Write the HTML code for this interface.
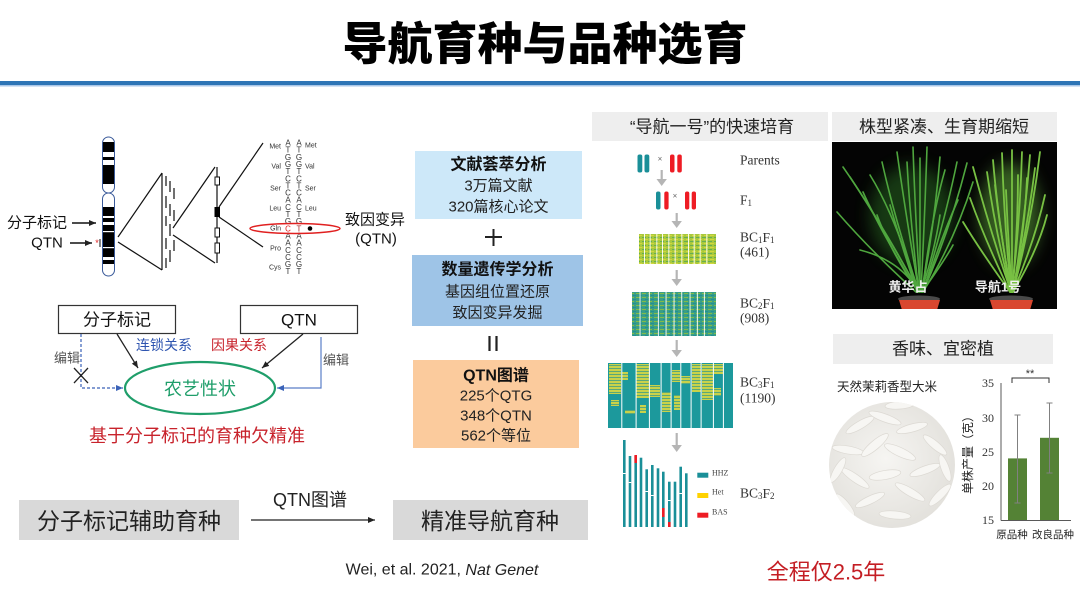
<!DOCTYPE html>
<html><head><meta charset="utf-8">
<style>
html,body{margin:0;padding:0;background:#fff;}
svg{display:block;}
text{font-family:"Liberation Sans","Noto Sans CJK SC",sans-serif;}
.s{font-family:"Liberation Serif","Noto Serif CJK SC",serif;}
</style></head><body>
<svg width="1080" height="609" viewBox="0 0 1080 609" xmlns="http://www.w3.org/2000/svg">
<defs>
  <marker id="ab" markerWidth="8" markerHeight="8" refX="7" refY="4" orient="auto" markerUnits="userSpaceOnUse"><path d="M0,1 L7,4 L0,7 z" fill="#222"/></marker>
  <marker id="abl" markerWidth="8" markerHeight="8" refX="7" refY="4" orient="auto" markerUnits="userSpaceOnUse"><path d="M0,1 L7,4 L0,7 z" fill="#3a62b8"/></marker>
  <pattern id="p1" width="6" height="4" patternUnits="userSpaceOnUse"><rect width="6" height="4" fill="#a9c93d"/><rect y="1" width="4" height="1" fill="#66ad52"/><rect x="2" y="3" width="4" height="1" fill="#d2d83e"/></pattern>
  <pattern id="p2" width="6" height="4" patternUnits="userSpaceOnUse"><rect width="6" height="4" fill="#3a9e86"/><rect y="1" width="4" height="1" fill="#84bc48"/><rect x="3" y="3" width="3" height="1" fill="#1f8f96"/></pattern>
  <pattern id="py" width="5" height="3" patternUnits="userSpaceOnUse"><rect width="5" height="3" fill="#c8d24a"/><rect y="2" width="5" height="1" fill="#5aa878"/></pattern>
  <radialGradient id="rg" cx="0.45" cy="0.45" r="0.6"><stop offset="0" stop-color="#f6f5f2"/><stop offset="1" stop-color="#e2e0db"/></radialGradient>
  <clipPath id="rc"><circle cx="892" cy="465" r="63"/></clipPath>
  <clipPath id="pc"><rect x="832" y="142" width="225" height="167"/></clipPath>
  <filter id="bl" x="-0.5" y="-0.5" width="2" height="2"><feGaussianBlur stdDeviation="8"/></filter>
</defs>

<!-- Title -->
<text x="545" y="44" font-size="45" font-weight="900" text-anchor="middle" dominant-baseline="central" fill="#000">导航育种与品种选育</text>
<rect x="0" y="81" width="1080" height="4" fill="#2e75b6"/>
<rect x="0" y="85" width="1080" height="1.5" fill="#aac7e8"/>

<!-- Chromosome -->
<g>
  <rect x="102.5" y="137" width="12" height="56" rx="6" fill="#fff" stroke="#3a5a9a" stroke-width="1"/>
  <rect x="102.5" y="193" width="12" height="83" rx="6" fill="#fff" stroke="#3a5a9a" stroke-width="1"/>
  <g fill="#000">
    <rect x="103" y="142" width="11" height="10"/>
    <rect x="103" y="157" width="11" height="3"/>
    <rect x="103" y="165" width="11" height="19"/>
    <rect x="103" y="207" width="11" height="9"/>
    <rect x="103" y="218" width="11" height="4"/>
    <rect x="103" y="225" width="11" height="32"/>
    <rect x="103" y="260" width="11" height="4"/>
  </g>
  <rect x="103" y="231" width="11" height="1.2" fill="#fff"/>
  <rect x="103" y="247" width="11" height="1.2" fill="#fff"/>
</g>
<text x="37" y="223" font-size="15" text-anchor="middle" dominant-baseline="central" fill="#111">分子标记</text>
<line x1="72" y1="223" x2="96" y2="223" stroke="#111" stroke-width="1.5" marker-end="url(#ab)"/>
<text x="47" y="243" font-size="15" text-anchor="middle" dominant-baseline="central" fill="#111">QTN</text>
<line x1="70" y1="243" x2="92" y2="243" stroke="#111" stroke-width="1.5" marker-end="url(#ab)"/>
<text x="97" y="246" font-size="9" text-anchor="middle" fill="#e02020">*</text>
<line x1="100" y1="239" x2="100" y2="247" stroke="#111" stroke-width="1"/>

<!-- zoom lines -->
<g stroke="#111" stroke-width="1.2" fill="none">
  <line x1="118" y1="237" x2="162" y2="173"/>
  <line x1="118" y1="242" x2="162" y2="270"/>
  <line x1="162" y1="173" x2="162" y2="270"/>
  <line x1="166" y1="176" x2="166" y2="186"/>
  <line x1="170" y1="181" x2="170" y2="192"/>
  <line x1="174" y1="188" x2="174" y2="199"/>
  <line x1="166" y1="196" x2="166" y2="208"/>
  <line x1="170" y1="204" x2="170" y2="216"/>
  <line x1="174" y1="210" x2="174" y2="221"/>
  <line x1="166" y1="216" x2="166" y2="226"/>
  <line x1="170" y1="224" x2="170" y2="236"/>
  <line x1="166" y1="238" x2="166" y2="249"/>
  <line x1="174" y1="240" x2="174" y2="251"/>
  <line x1="170" y1="250" x2="170" y2="262"/>
  <line x1="166" y1="258" x2="166" y2="268"/>
  <line x1="173" y1="228" x2="215" y2="167"/>
  <line x1="173" y1="235" x2="215" y2="263"/>
  <line x1="217" y1="167" x2="217" y2="263"/>
  <line x1="219" y1="207" x2="263" y2="143"/>
  <line x1="219" y1="217" x2="263" y2="247"/>
</g>
<g stroke="#111" stroke-width="1" fill="#fff">
  <rect x="215" y="177" width="4.5" height="8"/>
  <rect x="215" y="228" width="4.5" height="9"/>
  <rect x="215" y="243" width="4.5" height="10"/>
</g>
<rect x="214.5" y="207" width="5.5" height="10" fill="#000"/>

<!-- Sequence -->
<g font-size="7" fill="#333" dominant-baseline="central">
  <text x="281" y="147" text-anchor="end">Met</text>
  <text x="281" y="167" text-anchor="end">Val</text>
  <text x="281" y="189" text-anchor="end">Ser</text>
  <text x="281" y="209" text-anchor="end">Leu</text>
  <text x="281" y="228.8" text-anchor="end">Gln</text>
  <text x="281" y="249" text-anchor="end">Pro</text>
  <text x="281" y="268" text-anchor="end">Cys</text>
  <text x="305" y="146">Met</text>
  <text x="305" y="167">Val</text>
  <text x="305" y="189">Ser</text>
  <text x="305" y="209">Leu</text>
</g>
<g font-size="8" fill="#333" text-anchor="middle" dominant-baseline="central">
  <text x="288" y="143">A</text><text x="288" y="150.2">T</text><text x="288" y="157.3">G</text><text x="288" y="164.5">G</text><text x="288" y="171.6">T</text><text x="288" y="178.8">C</text><text x="288" y="185.9">T</text><text x="288" y="193.1">C</text><text x="288" y="200.2">A</text><text x="288" y="207.4">C</text><text x="288" y="214.5">T</text><text x="288" y="221.7">G</text><text x="288" y="228.8" fill="#e02020">C</text><text x="288" y="236">A</text><text x="288" y="243.1">A</text><text x="288" y="250.3">C</text><text x="288" y="257.4">C</text><text x="288" y="264.6">G</text><text x="288" y="271.7">T</text>
  <text x="299" y="143">A</text><text x="299" y="150.2">T</text><text x="299" y="157.3">G</text><text x="299" y="164.5">G</text><text x="299" y="171.6">T</text><text x="299" y="178.8">C</text><text x="299" y="185.9">T</text><text x="299" y="193.1">C</text><text x="299" y="200.2">A</text><text x="299" y="207.4">C</text><text x="299" y="214.5">T</text><text x="299" y="221.7">G</text><text x="299" y="228.8" fill="#a02828">T</text><text x="299" y="236">A</text><text x="299" y="243.1">A</text><text x="299" y="250.3">C</text><text x="299" y="257.4">C</text><text x="299" y="264.6">G</text><text x="299" y="271.7">T</text>
</g>
<ellipse cx="295" cy="228.5" rx="45" ry="5" fill="none" stroke="#e02020" stroke-width="1.5"/>
<circle cx="310" cy="228.5" r="2.3" fill="#000"/>
<text x="375" y="220" font-size="15" text-anchor="middle" dominant-baseline="central" fill="#111">致因变异</text>
<text x="376" y="239" font-size="15" text-anchor="middle" dominant-baseline="central" fill="#111">(QTN)</text>

<!-- Relation diagram -->
<rect x="58.5" y="305.5" width="117" height="28" fill="#fff" stroke="#333" stroke-width="1.2"/>
<text x="117" y="320" font-size="17" text-anchor="middle" dominant-baseline="central" fill="#111">分子标记</text>
<rect x="240.5" y="305.5" width="117" height="28" fill="#fff" stroke="#333" stroke-width="1.2"/>
<text x="299" y="320" font-size="17" text-anchor="middle" dominant-baseline="central" fill="#111">QTN</text>
<text x="164" y="345" font-size="14" text-anchor="middle" dominant-baseline="central" fill="#2f55b0">连锁关系</text>
<text x="239" y="345" font-size="14" text-anchor="middle" dominant-baseline="central" fill="#c8232c">因果关系</text>
<line x1="117" y1="334" x2="138" y2="368" stroke="#222" stroke-width="1.3" marker-end="url(#ab)"/>
<line x1="303" y1="334" x2="262" y2="368" stroke="#222" stroke-width="1.3" marker-end="url(#ab)"/>
<polyline points="81,334 81,388 123,388" fill="none" stroke="#3a62b8" stroke-width="1.2" stroke-dasharray="3,2" marker-end="url(#abl)"/>
<polyline points="321,337 321,388 277,388" fill="none" stroke="#5a7ec8" stroke-width="1.2" marker-end="url(#abl)"/>
<text x="67" y="358" font-size="13" text-anchor="middle" dominant-baseline="central" fill="#555">编辑</text>
<text x="336" y="360" font-size="13" text-anchor="middle" dominant-baseline="central" fill="#555">编辑</text>
<line x1="74" y1="368" x2="88" y2="383" stroke="#222" stroke-width="1.3"/>
<line x1="88" y1="368" x2="74" y2="383" stroke="#222" stroke-width="1.3"/>
<ellipse cx="200" cy="388" rx="75" ry="26" fill="#fff" stroke="#1f9e6a" stroke-width="2.2"/>
<text x="200" y="389" font-size="18" text-anchor="middle" dominant-baseline="central" fill="#1f9e6a">农艺性状</text>
<text x="197" y="436" font-size="18" text-anchor="middle" dominant-baseline="central" fill="#c8232c">基于分子标记的育种欠精准</text>

<!-- Bottom -->
<rect x="19" y="500" width="220" height="40" fill="#d9d9d9"/>
<text x="129" y="521" font-size="23" text-anchor="middle" dominant-baseline="central" fill="#222">分子标记辅助育种</text>
<text x="310" y="500" font-size="18" text-anchor="middle" dominant-baseline="central" fill="#222">QTN图谱</text>
<line x1="251" y1="520" x2="375" y2="520" stroke="#222" stroke-width="1.3" marker-end="url(#ab)"/>
<rect x="393" y="500" width="195" height="40" fill="#d9d9d9"/>
<text x="490" y="521" font-size="23" text-anchor="middle" dominant-baseline="central" fill="#222">精准导航育种</text>
<text x="442" y="570" font-size="16" text-anchor="middle" dominant-baseline="central" fill="#222">Wei, et al. 2021, <tspan font-style="italic">Nat Genet</tspan></text>

<!-- Middle boxes -->
<rect x="415" y="151" width="167" height="68" fill="#cde8f9"/>
<text x="498.5" y="165" font-size="16" font-weight="bold" text-anchor="middle" dominant-baseline="central" fill="#111">文献荟萃分析</text>
<text x="498.5" y="186" font-size="15" text-anchor="middle" dominant-baseline="central" fill="#222">3万篇文献</text>
<text x="498.5" y="207" font-size="15" text-anchor="middle" dominant-baseline="central" fill="#222">320篇核心论文</text>
<line x1="485" y1="237" x2="502" y2="237" stroke="#222" stroke-width="2"/>
<line x1="493.5" y1="229" x2="493.5" y2="246" stroke="#222" stroke-width="2"/>
<rect x="412" y="255" width="171" height="71" fill="#9ec4e7"/>
<text x="497.5" y="270" font-size="16" font-weight="bold" text-anchor="middle" dominant-baseline="central" fill="#111">数量遗传学分析</text>
<text x="497.5" y="292" font-size="15" text-anchor="middle" dominant-baseline="central" fill="#222">基因组位置还原</text>
<text x="497.5" y="313" font-size="15" text-anchor="middle" dominant-baseline="central" fill="#222">致因变异发掘</text>
<line x1="489.5" y1="336" x2="489.5" y2="351" stroke="#222" stroke-width="2.2"/>
<line x1="496.5" y1="336" x2="496.5" y2="351" stroke="#222" stroke-width="2.2"/>
<rect x="413" y="360" width="166" height="88" fill="#fbcb9d"/>
<text x="496" y="376" font-size="16" font-weight="bold" text-anchor="middle" dominant-baseline="central" fill="#111">QTN图谱</text>
<text x="496" y="396" font-size="15" text-anchor="middle" dominant-baseline="central" fill="#222">225个QTG</text>
<text x="496" y="416" font-size="15" text-anchor="middle" dominant-baseline="central" fill="#222">348个QTN</text>
<text x="496" y="436" font-size="15" text-anchor="middle" dominant-baseline="central" fill="#222">562个等位</text>

<!-- Breeding column -->
<rect x="592" y="112" width="236" height="29" fill="#eeeeee"/>
<text x="712" y="127" font-size="17" text-anchor="middle" dominant-baseline="central" fill="#222">“导航一号”的快速培育</text>

<g fill="#1a8f98">
  <rect x="637.5" y="154.5" width="4.8" height="18" rx="2"/>
  <rect x="644.5" y="154.5" width="4.8" height="18" rx="2"/>
  <rect x="656" y="191.5" width="4.5" height="18" rx="2"/>
</g>
<g fill="#ee1c24">
  <rect x="670" y="154.5" width="4.5" height="18" rx="2"/>
  <rect x="677.3" y="154.5" width="4.5" height="18" rx="2"/>
  <rect x="664.3" y="191.5" width="4.3" height="18" rx="2"/>
  <rect x="685" y="191.5" width="4.3" height="18" rx="2"/>
  <rect x="691.7" y="191.5" width="4.3" height="18" rx="2"/>
</g>
<text x="660" y="159" font-size="8" text-anchor="middle" dominant-baseline="central" fill="#666">×</text>
<text x="675" y="196" font-size="8" text-anchor="middle" dominant-baseline="central" fill="#666">×</text>

<g stroke="#b5b5b5" stroke-width="2.2">
  <line x1="661.7" y1="170" x2="661.7" y2="180"/>
  <line x1="676.7" y1="213" x2="676.7" y2="222"/>
  <line x1="676.7" y1="270" x2="676.7" y2="280"/>
  <line x1="676.7" y1="340" x2="676.7" y2="351"/>
  <line x1="676.7" y1="433" x2="676.7" y2="446"/>
</g>
<g fill="#b5b5b5">
  <path d="M656.5,179 L666.9,179 L661.7,186 z"/>
  <path d="M671.5,221 L681.9,221 L676.7,228 z"/>
  <path d="M671.5,279 L681.9,279 L676.7,286 z"/>
  <path d="M671.5,350 L681.9,350 L676.7,357 z"/>
  <path d="M671.5,445 L681.9,445 L676.7,452 z"/>
</g>

<!-- BC1F1 -->
<rect x="639" y="234" width="77" height="30" fill="url(#p1)"/>
<g fill="#fff">
  <rect x="644" y="234" width="0.9" height="30"/><rect x="649.7" y="234" width="0.9" height="30"/><rect x="656.4" y="234" width="0.9" height="30"/><rect x="662" y="234" width="0.9" height="30"/><rect x="668.4" y="234" width="0.9" height="30"/><rect x="674.7" y="234" width="0.9" height="30"/><rect x="681.4" y="234" width="0.9" height="30"/><rect x="688" y="234" width="0.9" height="30"/><rect x="693.7" y="234" width="0.9" height="30"/><rect x="699.7" y="234" width="0.9" height="30"/><rect x="706.4" y="234" width="0.9" height="30"/>
</g>
<!-- BC2F1 -->
<rect x="632" y="292" width="84" height="44" fill="url(#p2)"/>
<g fill="#fff">
  <rect x="639.6" y="292" width="0.9" height="44"/><rect x="648.9" y="292" width="0.9" height="44"/><rect x="657.9" y="292" width="0.9" height="44"/><rect x="665.6" y="292" width="0.9" height="44"/><rect x="673.6" y="292" width="0.9" height="44"/><rect x="681.3" y="292" width="0.9" height="44"/><rect x="689.6" y="292" width="0.9" height="44"/><rect x="696.9" y="292" width="0.9" height="44"/><rect x="703.9" y="292" width="0.9" height="44"/>
</g>
<!-- BC3F1 -->
<rect x="608" y="363" width="125" height="65" fill="#1c999c"/>
<g fill="url(#py)">
  <rect x="609" y="364" width="12" height="30"/>
  <rect x="611" y="400" width="8" height="6"/>
  <rect x="622" y="372" width="6" height="8"/>
  <rect x="636" y="364" width="13" height="34"/>
  <rect x="640" y="405" width="6" height="8"/>
  <rect x="650" y="385" width="10" height="12"/>
  <rect x="662" y="392" width="9" height="20"/>
  <rect x="672" y="370" width="8" height="12"/>
  <rect x="674" y="395" width="6" height="15"/>
  <rect x="681" y="376" width="9" height="8"/>
  <rect x="692" y="364" width="9" height="28"/>
  <rect x="702" y="364" width="11" height="36"/>
  <rect x="714" y="364" width="9" height="10"/>
  <rect x="714" y="388" width="7" height="8"/>
  <rect x="625" y="410" width="10" height="4"/>
</g>
<g fill="#fff">
  <rect x="621.3" y="363" width="1" height="65"/><rect x="635.6" y="363" width="1" height="65"/><rect x="648.9" y="363" width="1" height="65"/><rect x="660.6" y="363" width="1" height="65"/><rect x="670.6" y="363" width="1" height="65"/><rect x="680.3" y="363" width="1" height="65"/><rect x="690.6" y="363" width="1" height="65"/><rect x="700.6" y="363" width="1" height="65"/><rect x="712.9" y="363" width="1" height="65"/><rect x="722.9" y="363" width="1" height="65"/>
</g>
<!-- BC3F2 -->
<g fill="#1a8f98">
  <rect x="623" y="440" width="2.6" height="87"/>
  <rect x="628.7" y="456" width="2.6" height="71"/>
  <rect x="634.4" y="456" width="2.6" height="71"/>
  <rect x="639.7" y="457.7" width="2.6" height="69.3"/>
  <rect x="645.4" y="469.3" width="2.6" height="57.7"/>
  <rect x="651" y="465" width="2.6" height="62"/>
  <rect x="656.7" y="468.3" width="2.6" height="58.7"/>
  <rect x="662" y="471.7" width="2.6" height="55.3"/>
  <rect x="668" y="481.7" width="2.6" height="45.3"/>
  <rect x="673.7" y="481.7" width="2.6" height="45.3"/>
  <rect x="679.4" y="466.7" width="2.6" height="60.3"/>
  <rect x="685" y="473.3" width="2.6" height="53.7"/>
</g>
<g fill="#ee1c24">
  <rect x="634.4" y="455" width="2.6" height="8"/>
  <rect x="662" y="508" width="2.6" height="9"/>
  <rect x="668" y="522" width="2.6" height="5"/>
</g>
<g fill="#fff">
  <rect x="623" y="473" width="2.6" height="1"/><rect x="628.7" y="482" width="2.6" height="1"/><rect x="645.4" y="491" width="2.6" height="1"/><rect x="651" y="495" width="2.6" height="1"/><rect x="668" y="500" width="2.6" height="1"/><rect x="679.4" y="493" width="2.6" height="1"/>
</g>
<rect x="697.3" y="472.7" width="11" height="5" fill="#1a8f98"/>
<rect x="697.3" y="493" width="11" height="5" fill="#ffd200"/>
<rect x="697.3" y="512.7" width="11" height="5" fill="#ee1c24"/>
<g font-size="8" fill="#444" dominant-baseline="central">
  <text class="s" x="712" y="473">HHZ</text>
  <text class="s" x="712" y="492">Het</text>
  <text class="s" x="712" y="512">BAS</text>
</g>
<g font-size="13.5" fill="#333" dominant-baseline="central">
  <text class="s" x="740" y="160">Parents</text>
  <text class="s" x="740" y="200">F<tspan font-size="9" dy="3">1</tspan></text>
  <text class="s" x="740" y="237">BC<tspan font-size="9" dy="3">1</tspan><tspan dy="-3">F</tspan><tspan font-size="9" dy="3">1</tspan></text>
  <text class="s" x="740" y="252">(461)</text>
  <text class="s" x="740" y="303">BC<tspan font-size="9" dy="3">2</tspan><tspan dy="-3">F</tspan><tspan font-size="9" dy="3">1</tspan></text>
  <text class="s" x="740" y="318">(908)</text>
  <text class="s" x="740" y="382">BC<tspan font-size="9" dy="3">3</tspan><tspan dy="-3">F</tspan><tspan font-size="9" dy="3">1</tspan></text>
  <text class="s" x="740" y="398">(1190)</text>
  <text class="s" x="740" y="493">BC<tspan font-size="9" dy="3">3</tspan><tspan dy="-3">F</tspan><tspan font-size="9" dy="3">2</tspan></text>
</g>
<text x="826" y="572" font-size="22" text-anchor="middle" dominant-baseline="central" fill="#c41e24">全程仅2.5年</text>

<!-- Plant photo -->
<rect x="832" y="112" width="225" height="29" fill="#eeeeee"/>
<text x="944" y="127" font-size="17" text-anchor="middle" dominant-baseline="central" fill="#222">株型紧凑、生育期缩短</text>
<rect x="832" y="142" width="225" height="167" fill="#040404"/>
<g clip-path="url(#pc)">
  <ellipse cx="912" cy="215" rx="42" ry="50" fill="#2f7a28" opacity="0.45" filter="url(#bl)"/>
  <ellipse cx="1010" cy="215" rx="30" ry="52" fill="#5fa83a" opacity="0.55" filter="url(#bl)"/>
  <g stroke="#4fa63e" stroke-width="1.6" fill="none" stroke-linecap="round">
    <path d="M919,292 Q880,220 843,167"/>
    <path d="M919,292 Q885,230 850,177"/>
    <path d="M916,292 Q870,250 837,212"/>
    <path d="M919,292 Q895,220 882,162"/>
    <path d="M919,292 Q905,210 897,152"/>
    <path d="M920,292 Q915,210 913,147"/>
    <path d="M921,292 Q925,210 927,147"/>
    <path d="M922,292 Q935,220 940,157"/>
    <path d="M923,292 Q945,220 957,162"/>
    <path d="M923,292 Q950,230 967,163"/>
    <path d="M923,292 Q955,240 973,182"/>
    <path d="M922,292 Q945,260 953,245"/>
    <path d="M918,292 Q880,230 863,192"/>
    <path d="M918,292 Q890,250 877,215"/>
    <path d="M921,292 Q935,250 940,215"/>
    <path d="M920,292 Q920,220 920,158"/>
    <path d="M919,292 Q910,220 907,162"/>
    <path d="M917,292 Q900,240 890,205"/>
    <path d="M924,292 Q940,240 958,200"/>
    <path d="M918,292 Q895,215 870,175"/>
    <path d="M922,292 Q932,215 945,170"/>
    <path d="M919,292 Q900,260 860,250"/>
  </g>
  <g stroke="#78c143" stroke-width="1.8" fill="none" stroke-linecap="round">
    <path d="M1011,292 Q990,230 973,167"/>
    <path d="M1011,292 Q995,230 987,172"/>
    <path d="M1011,292 Q1004,220 1002,153"/>
    <path d="M1012,292 Q1012,220 1012,150"/>
    <path d="M1012,292 Q1020,220 1022,152"/>
    <path d="M1013,292 Q1025,220 1030,155"/>
    <path d="M1013,292 Q1032,220 1040,152"/>
    <path d="M1013,292 Q1035,240 1045,195"/>
    <path d="M1013,292 Q1038,250 1047,215"/>
    <path d="M1010,292 Q980,250 963,222"/>
    <path d="M1010,292 Q985,240 970,198"/>
    <path d="M1013,292 Q1025,230 1027,178"/>
    <path d="M1011,292 Q1000,230 995,185"/>
    <path d="M1012,292 Q1018,230 1018,175"/>
    <path d="M1012,292 Q1008,240 1006,190"/>
    <path d="M1011,292 Q998,220 993,160"/>
    <path d="M1013,292 Q1028,225 1035,168"/>
  </g>
  <ellipse cx="919" cy="299" rx="21" ry="3.5" fill="#4a4a4a"/>
  <path d="M899,300 L940,300 L937,310 L902,310 z" fill="#d9472f"/>
  <ellipse cx="1011" cy="299" rx="22" ry="3.5" fill="#4a4a4a"/>
  <path d="M990,300 L1033,300 L1030,310 L993,310 z" fill="#d9472f"/>
</g>
<text x="908" y="287" font-size="13" font-weight="bold" text-anchor="middle" dominant-baseline="central" fill="#f0f0f0">黄华占</text>
<text x="998" y="287" font-size="13" font-weight="bold" text-anchor="middle" dominant-baseline="central" fill="#f0f0f0">导航1号</text>

<!-- Rice -->
<rect x="833" y="334" width="220" height="30" fill="#eeeeee"/>
<text x="943" y="349" font-size="17" text-anchor="middle" dominant-baseline="central" fill="#222">香味、宜密植</text>
<text x="887" y="387" font-size="12.5" text-anchor="middle" dominant-baseline="central" fill="#222">天然茉莉香型大米</text>
<circle cx="892" cy="465" r="63" fill="url(#rg)"/>
<g clip-path="url(#rc)" fill="#f7f6f3" stroke="#dcd9d3" stroke-width="0.7">
  <ellipse cx="860" cy="425" rx="16" ry="4" transform="rotate(-30 860 425)"/>
  <ellipse cx="885" cy="418" rx="17" ry="4" transform="rotate(20 885 418)"/>
  <ellipse cx="912" cy="428" rx="16" ry="4" transform="rotate(-15 912 428)"/>
  <ellipse cx="935" cy="445" rx="15" ry="4" transform="rotate(40 935 445)"/>
  <ellipse cx="848" cy="450" rx="16" ry="4" transform="rotate(10 848 450)"/>
  <ellipse cx="875" cy="445" rx="17" ry="4.5" transform="rotate(-40 875 445)"/>
  <ellipse cx="900" cy="452" rx="17" ry="4.5" transform="rotate(25 900 452)"/>
  <ellipse cx="925" cy="470" rx="16" ry="4" transform="rotate(-20 925 470)"/>
  <ellipse cx="855" cy="478" rx="17" ry="4" transform="rotate(35 855 478)"/>
  <ellipse cx="885" cy="475" rx="16" ry="4.5" transform="rotate(-10 885 475)"/>
  <ellipse cx="910" cy="492" rx="17" ry="4" transform="rotate(30 910 492)"/>
  <ellipse cx="870" cy="500" rx="16" ry="4" transform="rotate(-25 870 500)"/>
  <ellipse cx="940" cy="495" rx="15" ry="4" transform="rotate(-45 940 495)"/>
  <ellipse cx="895" cy="515" rx="16" ry="4" transform="rotate(5 895 515)"/>
  <ellipse cx="845" cy="505" rx="14" ry="4" transform="rotate(50 845 505)"/>
  <ellipse cx="900" cy="405" rx="15" ry="4" transform="rotate(-5 900 405)"/>
  <ellipse cx="838" cy="470" rx="14" ry="4" transform="rotate(-60 838 470)"/>
  <ellipse cx="945" cy="468" rx="14" ry="4" transform="rotate(70 945 468)"/>
</g>

<!-- Bar chart -->
<text x="968" y="452" font-size="12" text-anchor="middle" dominant-baseline="central" fill="#222" transform="rotate(-90 968 452)">单株产量（克）</text>
<g font-size="12" fill="#333" text-anchor="end" dominant-baseline="central">
  <text class="s" x="994" y="383">35</text>
  <text class="s" x="994" y="418">30</text>
  <text class="s" x="994" y="452">25</text>
  <text class="s" x="994" y="486">20</text>
  <text class="s" x="994" y="520">15</text>
</g>
<rect x="1008" y="458.4" width="19" height="61.6" fill="#548235"/>
<rect x="1040" y="437.8" width="19" height="82.2" fill="#548235"/>
<g stroke="#808080" stroke-width="1">
  <line x1="1017.5" y1="415" x2="1017.5" y2="503"/>
  <line x1="1014.5" y1="415" x2="1020.5" y2="415"/>
  <line x1="1014.5" y1="503" x2="1020.5" y2="503"/>
  <line x1="1049.5" y1="403" x2="1049.5" y2="473"/>
  <line x1="1046.5" y1="403" x2="1052.5" y2="403"/>
  <line x1="1046.5" y1="473" x2="1052.5" y2="473"/>
</g>
<line x1="1001" y1="383" x2="1001" y2="520.5" stroke="#595959" stroke-width="1"/>
<line x1="1001" y1="520.5" x2="1071" y2="520.5" stroke="#595959" stroke-width="1"/>
<path d="M1012,383 V378 H1049 V383" fill="none" stroke="#333" stroke-width="1"/>
<text x="1030" y="374" font-size="11" text-anchor="middle" dominant-baseline="central" fill="#333">**</text>
<text x="1012" y="535" font-size="10.5" text-anchor="middle" dominant-baseline="central" fill="#222">原品种</text>
<text x="1053" y="535" font-size="10.5" text-anchor="middle" dominant-baseline="central" fill="#222">改良品种</text>
</svg>
</body></html>
